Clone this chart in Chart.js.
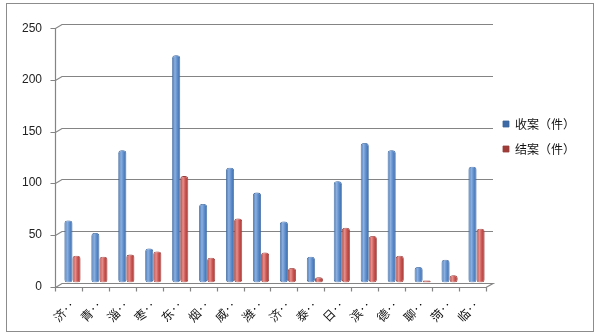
<!DOCTYPE html>
<html>
<head>
<meta charset="utf-8">
<script src="https://cdn.jsdelivr.net/npm/chart.js@4.4.0/dist/chart.umd.min.js"></script>
<style>
  html, body { margin: 0; padding: 0; background: #fff; }
</style>
</head>
<body>
<canvas id="chart" width="600" height="336"></canvas>
<script>
// data
const cities = ['济南市', '青岛市', '淄博市', '枣庄市', '东营市', '烟台市', '威海市', '潍坊市',
                '济宁市', '泰安市', '日照市', '滨州市', '德州市', '聊城市', '菏泽市', '临沂市'];
const received = [60, 48, 128, 33, 220, 76, 111, 87, 59, 25, 98, 135, 128, 15, 22, 112];
const closed = [26, 25, 27, 30, 103, 24, 62, 29, 14, 5, 53, 45, 26, 2, 7, 52];
const seriesNames = ['收案（件）', '结案（件）'];
const yTicks = [0, 50, 100, 150, 200, 250];

const CAT_PCT = 0.6;

// horizontal gradient so bars look like cylinders
function cylinder(base, stops) {
    return function(ctx) {
        const chart = ctx.chart;
        const a = chart.chartArea;
        const xs = chart.scales.x;
        if (!a || !xs || ctx.dataIndex == null) return base;
        const cw = (a.right - a.left) / cities.length;
        const w = cw * CAT_PCT / 2;
        const cx = xs.getPixelForValue(ctx.dataIndex);
        const x0 = ctx.datasetIndex === 0 ? cx - w : cx;
        const g = chart.ctx.createLinearGradient(x0, 0, x0 + w, 0);
        stops.forEach(s => g.addColorStop(s[0], s[1]));
        return g;
    };
}

// outer frame + pseudo 3D walls / axes
const frame3d = {
    id: 'frame3d',
    beforeDraw(chart) {
        const c = chart.ctx;
        c.save();
        c.fillStyle = '#fff';
        c.fillRect(0, 0, chart.width, chart.height);
        c.strokeStyle = '#8c8c8c';
        c.lineWidth = 1;
        c.strokeRect(6.5, 3.5, 587, 328);
        c.restore();
    },
    beforeDatasetsDraw(chart) {
        const c = chart.ctx;
        const a = chart.chartArea;
        const y = chart.scales.y;
        const bx = 3, fx = -4, dy = 4;
        const fl = Math.round(a.left + fx) + 0.5;
        const bl = Math.round(a.left + bx);
        const br = Math.round(a.right + bx);
        const fr = Math.round(a.right + fx);
        c.save();
        c.strokeStyle = '#848484';
        c.lineWidth = 1.2;
        c.beginPath();
        yTicks.forEach(v => {
            const py = Math.round(y.getPixelForValue(v)) + 0.5;
            if (v !== 0) {
                c.moveTo(fl - 5, py + dy);
                c.lineTo(fl, py + dy);
                c.lineTo(bl, py);
                c.lineTo(br, py);
            }
        });
        const top = Math.round(y.getPixelForValue(yTicks[yTicks.length - 1])) + 0.5;
        const bot = Math.round(y.getPixelForValue(0)) + 0.5;
        // front y axis
        c.moveTo(fl, top + dy);
        c.lineTo(fl, bot + dy);
        // floor
        c.moveTo(fl - 5, bot + dy);
        c.lineTo(fr, bot + dy);
        c.lineTo(br, bot);
        c.lineTo(bl, bot);
        c.lineTo(fl, bot + dy);
        // category ticks
        const cw = (a.right - a.left) / cities.length;
        for (let i = 0; i <= cities.length; i++) {
            const tx = Math.round(a.left + fx + i * cw) + 0.5;
            c.moveTo(tx, bot + dy);
            c.lineTo(tx, bot + dy + 4);
        }
        c.stroke();
        c.restore();
    }
};

new Chart(document.getElementById('chart'), {
    type: 'bar',
    data: {
        labels: cities,
        datasets: [{
            label: seriesNames[0],
            data: received,
            backgroundColor: cylinder('#4f81bd', [[0, '#4674b0'], [0.35, '#8cb0e0'], [0.65, '#5b8ccc'], [1, '#3d6aa6']]),
            borderColor: '#3a659c',
            borderWidth: 0.8,
            borderRadius: 3,
            borderSkipped: false,
            barPercentage: 1,
            categoryPercentage: CAT_PCT
        }, {
            label: seriesNames[1],
            data: closed,
            backgroundColor: cylinder('#c0504d', [[0, '#b2423f'], [0.35, '#e8908d'], [0.65, '#c9534f'], [1, '#a13b38']]),
            borderColor: '#963d3a',
            borderWidth: 0.8,
            borderRadius: 3,
            borderSkipped: false,
            barPercentage: 1,
            categoryPercentage: CAT_PCT
        }]
    },
    options: {
        responsive: false,
        animation: false,
        layout: { padding: { top: 23, left: 6, right: 15, bottom: 0 } },
        plugins: {
            tooltip: { enabled: false },
            legend: {
                position: 'right',
                align: 'start',
                title: { display: true, text: ' ', font: { size: 10 }, padding: { top: 0, bottom: 70 } },
                labels: {
                    boxWidth: 6,
                    boxHeight: 6,
                    padding: 13,
                    color: '#111',
                    font: { family: '"Noto Sans CJK SC", sans-serif', size: 12 }
                }
            }
        },
        scales: {
            x: {
                grid: { display: false, drawTicks: false },
                border: { display: false },
                afterFit(scale) { scale.height = 53.5; },
                ticks: {
                    autoSkip: false,
                    minRotation: 45,
                    maxRotation: 45,
                    padding: 15,
                    color: '#111',
                    font: { family: '"Noto Sans CJK SC", sans-serif', size: 12 },
                    callback: (v, i) => cities[i].charAt(0) + '‥'
                }
            },
            y: {
                min: 0,
                max: 250,
                grid: { display: false, drawTicks: false },
                border: { display: false },
                afterFit(scale) { scale.width = 53; },
                afterBuildTicks(scale) { scale.ticks = yTicks.map(v => ({ value: v })); },
                ticks: {
                    padding: 17,
                    labelOffset: 4,
                    color: '#222',
                    font: { family: '"Liberation Sans", Arial, sans-serif', size: 12 }
                }
            }
        }
    },
    plugins: [frame3d]
});
</script>
</body>
</html>
